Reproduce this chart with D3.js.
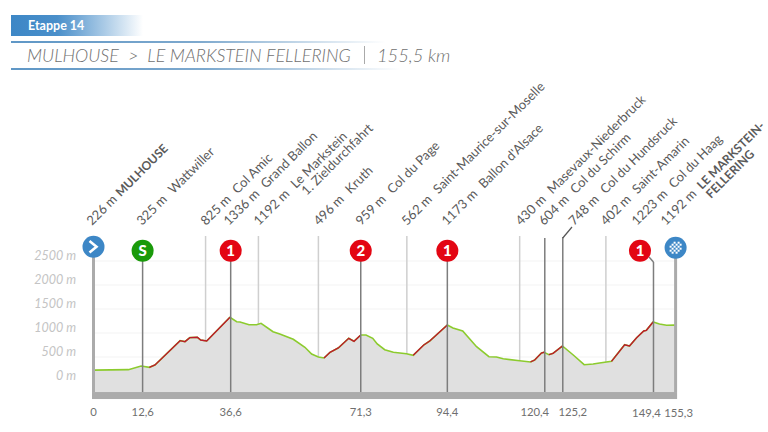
<!DOCTYPE html>
<html><head><meta charset="utf-8">
<script src="https://cdn.jsdelivr.net/npm/d3@7/dist/d3.min.js"></script>
<style>
html,body{margin:0;padding:0;background:#fff}
svg{display:block}
text{white-space:pre;font-family:Lato,"Open Sans",sans-serif}
</style></head><body>
<svg id="c" width="768" height="432"></svg>
<script>
const stageLabel = "Etappe 14";
const routeTitle = "MULHOUSE  >  LE MARKSTEIN FELLERING";
const routeDistance = "155,5 km";
const profileKm = [0,9.3,12.7,14.9,16.4,23.1,24.4,25.7,27.7,28.6,30.2,36.4,38.2,39.1,41.5,43.5,44.7,47.9,49.7,53.3,56.4,58.2,60,61.5,63.1,65.3,68.1,69.5,71.3,72.7,74.5,75.7,77.7,80,83.5,85.3,88.1,89.7,94.4,95.9,98.5,102.2,105.5,107.5,109.3,113.7,116.6,117.7,119.5,120.2,121.5,122.6,125.1,128,130.9,133.3,135,138.2,141.7,143,144.9,146.8,147.5,149.3,151,152.9,154.9,155.3];
const profileElev = [226,236,312,285,333,840,820,903,910,854,833,1327,1236,1229,1173,1173,1201,1027,979,869,702,562,500,479,598,688,890,827,958,958,890,771,652,598,569,535,750,833,1167,1104,1042,715,506,500,462,423,396,437,583,598,548,577,729,542,340,354,375,410,756,729,902,1042,1056,1229,1187,1160,1167,1165];
const climbStart = [14.9,61.5,85.3,116.6,121.5,138.2];
const climbEnd = [36.4,71.3,94.4,120.2,125.1,149.3];
const elevTicks = [0,500,1000,1500,2000,2500];
const kmTicks = [0,12.6,36.6,71.3,94.4,120.4,125.2,149.4,155.3];
const kmTickLabels = ["0","12,6","36,6","71,3","94,4","120,4","125,2","149,4","155,3"];
const kmTickShift = [0,2,0,0,0,-10,10,-7,3];
const minorKm = [29.9,44,60,83.6,113.7,136.7];
const majorKm = [13.1,36.6,71.3,94.4,120.4,125.2,149.4];
const badgeKm = [13.1,36.6,71.3,94.4,145.8];
const badgeText = ["S","1","2","1","1"];
const badgeColor = ["#1a9a0a","#e30613","#e30613","#e30613","#e30613"];
const placeAlt = ["226 m","325 m","825 m","1336 m","1192 m","496 m","959 m","562 m","1173 m","430 m","604 m","748 m","402 m","1223 m","1192 m"];
const placeName = ["MULHOUSE","Wattwiller","Col Amic","Grand Ballon","Le Markstein","Kruth","Col du Page","Saint-Maurice-sur-Moselle","Ballon d'Alsace","Masevaux-Niederbruck","Col du Schirm","Col du Hundsruck","Saint-Amarin","Col du Haag","LE MARKSTEIN-"];
const placeLine2 = ["","","","","1. Zieldurchfahrt","","","","","","","","","","FELLERING"];
const placeStrong = [true,false,false,false,false,false,false,false,false,false,false,false,false,false,true];
const placeLeft = [88,138,202,225,255,315,357,403,443,517,540,570,602,633,662];

const svg = d3.select("#c");
const defs = svg.append("defs");
function grad(id, stops){
  const g = defs.append("linearGradient").attr("id",id).attr("x1","0").attr("x2","1").attr("y1","0").attr("y2","0");
  stops.forEach(s=>g.append("stop").attr("offset",s[0]).attr("stop-color",s[1]).attr("stop-opacity",s[2]));
}
grad("hd",[[0,"#3d87c6",1],[0.35,"#4a8fca",1],[1,"#3d87c6",0]]);
grad("rl",[[0,"#5f97c6",1],[0.5,"#6f9fc8",0.9],[1,"#6f9fc8",0]]);

// header
svg.append("rect").attr("x",11).attr("y",15).attr("width",132).attr("height",21).attr("fill","url(#hd)");
svg.append("text").attr("x",28).attr("y",30).attr("fill","#fff").attr("font-size",12.5).attr("font-weight",700).text(stageLabel);
svg.append("rect").attr("x",11).attr("y",41).attr("width",375).attr("height",2).attr("fill","url(#rl)");
svg.append("rect").attr("x",11).attr("y",68).attr("width",390).attr("height",2).attr("fill","url(#rl)");
svg.append("text").attr("x",27).attr("y",62).attr("fill","#707070").attr("font-size",17.9).attr("font-style","italic").attr("font-weight",300).text(routeTitle);
svg.append("line").attr("x1",364.5).attr("x2",364.5).attr("y1",46).attr("y2",64).attr("stroke","#aaa");
svg.append("text").attr("x",377).attr("y",62).attr("fill","#707070").attr("font-size",18.3).attr("font-style","italic").attr("font-weight",300).text(routeDistance);

// scales
const x = d3.scaleLinear().domain([0,155.3]).range([93.5,675.6]);
const y = d3.scaleLinear().domain([0,2500]).range([381,261]);
const baseElev = -230;

// y axis + faint grid
const yAxis = d3.axisLeft(y).tickValues(elevTicks).tickSize(0).tickFormat(d=>d+" m");
const gy = svg.append("g").attr("transform","translate(79,0)").call(yAxis);
gy.select(".domain").remove();
gy.selectAll("text").attr("font-family","Lato,sans-serif").attr("font-size",12.5).attr("font-style","italic").attr("fill","#c4c4c4").attr("dy","-0.12em").attr("x",-3);
svg.append("g").selectAll("line").data(elevTicks.slice(1)).join("line")
  .attr("x1",x(0)).attr("x2",x(155.3)).attr("y1",d=>y(d)).attr("y2",d=>y(d)).attr("stroke","#f3f3f3");

const pts = profileKm.map((k,i)=>({k,e:profileElev[i]}));
const area = d3.area().x(d=>x(d.k)).y0(y(baseElev)).y1(d=>y(d.e));
svg.append("path").datum(pts).attr("d",area).attr("fill","#e0e0e0");

const elevAt = k => { const i=d3.bisector(d=>d.k).right(pts,k); const a=pts[Math.max(i-1,0)],b=pts[Math.min(i,pts.length-1)]; return b.k===a.k?a.e:a.e+(b.e-a.e)*(k-a.k)/(b.k-a.k); };

// minor lines
svg.append("g").selectAll("line").data(minorKm).join("line")
  .attr("x1",d=>x(d)).attr("x2",d=>x(d)).attr("y1",236).attr("y2",d=>y(elevAt(d)))
  .attr("stroke","#cfcfcf").attr("stroke-width",1.5);

// profile
const line = d3.line().x(d=>x(d.k)).y(d=>y(d.e));
svg.append("path").datum(pts).attr("d",line).attr("fill","none").attr("stroke","#8ccb2e").attr("stroke-width",1.6);
climbStart.forEach((s,i)=>{
  svg.append("path").datum(pts.filter(d=>d.k>=s&&d.k<=climbEnd[i])).attr("d",line).attr("fill","none").attr("stroke","#bd1a2c").attr("stroke-width",1.4);
});

// base bar
svg.append("rect").attr("x",x(0)-1.5).attr("y",y(baseElev)).attr("width",x(155.3)-x(0)+3).attr("height",7).attr("fill","#ababab");
// start / finish poles
[0,155.3].forEach(k=>svg.append("line").attr("x1",x(k)).attr("x2",x(k)).attr("y1",247).attr("y2",y(baseElev)).attr("stroke","#ababab").attr("stroke-width",3));
// major lines
svg.append("g").selectAll("line").data(majorKm).join("line")
  .attr("x1",d=>x(d)).attr("x2",d=>x(d)).attr("y1",(d,i)=>i===4?238:(i===5?237:(i===6?262:251))).attr("y2",y(baseElev))
  .attr("stroke","#7d7d7d").attr("stroke-width",1.5);
svg.append("path").attr("d",d3.line()([[x(125.2),238],[572,227]])).attr("fill","none").attr("stroke","#555").attr("stroke-width",1.2);
svg.append("path").attr("d",d3.line()([[649,257],[x(149.4),262]])).attr("fill","none").attr("stroke","#7d7d7d").attr("stroke-width",1.5);

// badges
const b = svg.append("g").selectAll("g").data(badgeKm).join("g").attr("transform",d=>`translate(${x(d)},250.7)`);
b.append("circle").attr("r",11).attr("fill",(d,i)=>badgeColor[i]);
b.append("text").attr("text-anchor","middle").attr("y",5.5).attr("fill","#fff").attr("font-size",15).attr("font-weight",900).text((d,i)=>badgeText[i]);

// start and finish badges
svg.append("circle").attr("cx",x(0)).attr("cy",246.7).attr("r",11).attr("fill","#3d87c6");
svg.append("path").attr("d",d3.line()([[x(0)-4,241],[x(0)+3,246.7],[x(0)-4,252.4]])).attr("fill","none").attr("stroke","#fff").attr("stroke-width",2.6);
const fin = svg.append("g").attr("transform",`translate(${x(155.3)},247.7)`);
fin.append("circle").attr("r",11).attr("fill","#3d87c6");
const chk = [-6,-4,-2,0,2,4];
chk.forEach((a,i)=>chk.forEach((c,j)=>{ if((i+j)%2===0 && Math.hypot(a+1,c+1)<6.5) fin.append("rect").attr("x",a).attr("y",c).attr("width",2).attr("height",2).attr("fill","#fff"); }));

// x labels
svg.append("g").selectAll("text").data(kmTicks).join("text")
  .attr("x",(d,i)=>x(d)+kmTickShift[i]).attr("y",(d,i)=>i>=7?417:416).attr("text-anchor","middle")
  .attr("fill","#6f6f6f").attr("font-size",11.3).text((d,i)=>kmTickLabels[i]);

// place labels
const lb = svg.append("g").selectAll("text").data(placeAlt).join("text")
  .attr("transform",(d,i)=>`translate(${placeLeft[i]+4},226) rotate(-45)`)
  .attr("fill","#5a5a5a").attr("font-size",13);
const nameOffset = 51;
lb.each(function(d,i){
  const t=d3.select(this);
  t.append("tspan").text(d);
  const w=this.getComputedTextLength();
  t.append("tspan").attr("x",i===14?nameOffset:w+(placeStrong[i]?4:8)).attr("font-weight",placeStrong[i]?700:400).attr("font-size",placeStrong[i]?12:13).text(placeName[i]);
  if(placeLine2[i]) t.append("tspan").attr("x",i===4?nameOffset+4:nameOffset).attr("dy",12.7).attr("font-weight",placeStrong[i]?700:400).attr("font-size",placeStrong[i]?12:13).text(placeLine2[i]);
});
</script>
</body></html>
